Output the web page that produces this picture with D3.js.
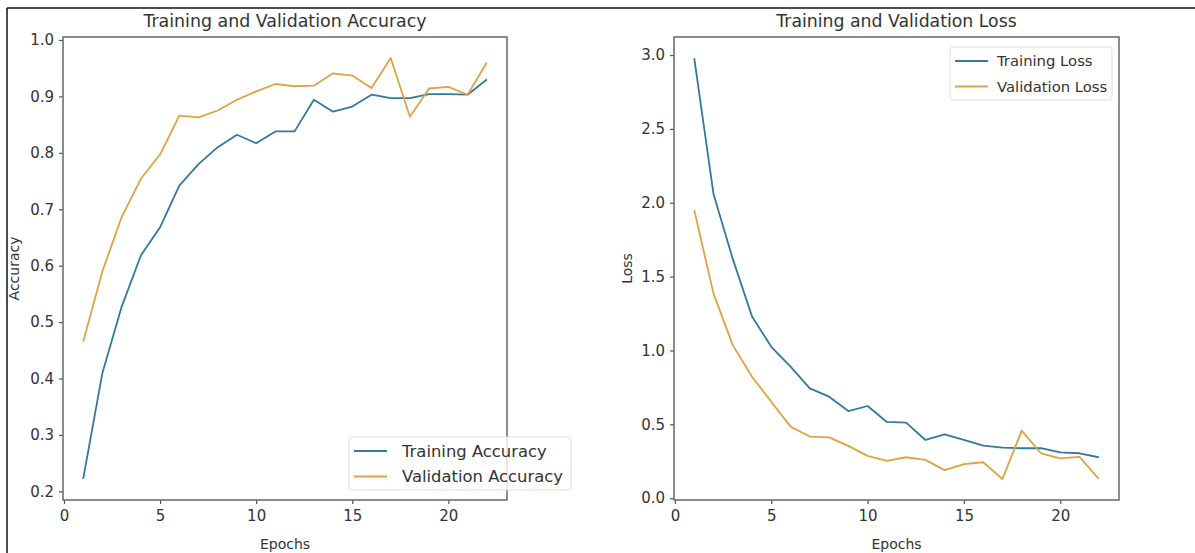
<!DOCTYPE html>
<html>
<head>
<meta charset="utf-8">
<script src="https://cdn.jsdelivr.net/npm/d3@7"></script>
<style>
  body { margin: 0; background: #fff; }
  svg text { font-family: "DejaVu Sans", sans-serif; fill: #333; }
</style>
</head>
<body>
<svg id="chart" width="1195" height="553"></svg>
<script>
// epochs 1..22
const epochs = d3.range(1, 23);

const trainAcc = [0.222, 0.41, 0.527, 0.618, 0.668, 0.742, 0.78, 0.81, 0.832, 0.817, 0.838, 0.838,
  0.894, 0.873, 0.882, 0.903, 0.897, 0.897, 0.904, 0.904, 0.903, 0.930];
const valAcc = [0.465, 0.59, 0.686, 0.754, 0.797, 0.866, 0.863, 0.875, 0.894, 0.909, 0.922, 0.918,
  0.919, 0.941, 0.937, 0.915, 0.968, 0.864, 0.914, 0.917, 0.903, 0.960];

const trainLoss = [2.98, 2.06, 1.62, 1.23, 1.025, 0.89, 0.743, 0.687, 0.59, 0.624, 0.516, 0.511,
  0.394, 0.432, 0.394, 0.356, 0.342, 0.338, 0.338, 0.31, 0.304, 0.277];
const valLoss = [1.95, 1.385, 1.036, 0.822, 0.653, 0.484, 0.417, 0.412, 0.354, 0.286, 0.252, 0.277,
  0.259, 0.19, 0.23, 0.243, 0.13, 0.457, 0.304, 0.27, 0.28, 0.13];

const xTicks = [0, 5, 10, 15, 20];
const accTicks = [0.2, 0.3, 0.4, 0.5, 0.6, 0.7, 0.8, 0.9, 1.0];
const lossTicks = [0.0, 0.5, 1.0, 1.5, 2.0, 2.5, 3.0];

const blue = "#34789f";
const orange = "#e0a245";

const svg = d3.select("#chart");

// frame lines of the screenshot
svg.append("line").attr("x1", 7).attr("x2", 1195).attr("y1", 8).attr("y2", 8)
  .attr("stroke", "#111").attr("stroke-width", 1.5);
svg.append("line").attr("x1", 7).attr("x2", 7).attr("y1", 8).attr("y2", 553)
  .attr("stroke", "#111").attr("stroke-width", 1.5);

function pad(ext) {
  const r = ext[1] - ext[0];
  return [ext[0] - r * 0.05, ext[1] + r * 0.05];
}

function drawPanel(cfg) {
  const { left, right, top, bottom } = cfg;
  const g = svg.append("g");

  const x = d3.scaleLinear().domain(pad([1, 22])).range([left, right]);
  const y = d3.scaleLinear()
    .domain(pad(d3.extent(cfg.series[0].values.concat(cfg.series[1].values))))
    .range([bottom, top]);

  // axes
  const xAxis = g.append("g").attr("transform", `translate(0,${bottom})`)
    .call(d3.axisBottom(x).tickValues(xTicks).tickSize(4).tickPadding(6).tickFormat(d3.format("d")));
  const yAxis = g.append("g").attr("transform", `translate(${left},0)`)
    .call(d3.axisLeft(y).tickValues(cfg.yTicks).tickSize(4).tickPadding(5).tickFormat(d3.format(".1f")));

  [xAxis, yAxis].forEach(a => {
    a.select(".domain").remove();
    a.selectAll(".tick line").attr("stroke", "#555").attr("stroke-width", 1.2);
    a.selectAll(".tick text").attr("font-size", 15).attr("fill", "#333")
      .style("font-family", "'DejaVu Sans', sans-serif");
  });

  // spines
  g.append("rect").attr("x", left).attr("y", top)
    .attr("width", right - left).attr("height", bottom - top)
    .attr("fill", "none").attr("stroke", "#666").attr("stroke-width", 1.5);

  const line = d3.line().x((d, i) => x(epochs[i])).y(d => y(d));
  cfg.series.forEach(s => {
    g.append("path").datum(s.values).attr("d", line)
      .attr("fill", "none").attr("stroke", s.color).attr("stroke-width", 1.8)
      .attr("stroke-linejoin", "round");
  });

  // title + labels
  g.append("text").attr("x", (left + right) / 2).attr("y", 27)
    .attr("text-anchor", "middle").attr("font-size", cfg.titleSize).text(cfg.title);
  g.append("text").attr("x", (left + right) / 2).attr("y", 549)
    .attr("text-anchor", "middle").attr("font-size", 14).text("Epochs");
  g.append("text")
    .attr("transform", `translate(${cfg.yLabelX},${(top + bottom) / 2}) rotate(-90)`)
    .attr("text-anchor", "middle").attr("font-size", 14).text(cfg.yLabel);

  // legend
  const lg = g.append("g").attr("transform", `translate(${cfg.legend[0]},${cfg.legend[1]})`);
  lg.append("rect").attr("width", cfg.legendW).attr("height", 53).attr("rx", 3)
    .attr("fill", "#fff").attr("fill-opacity", 0.8).attr("stroke", "#ddd");
  cfg.series.forEach((s, i) => {
    const cy = 14 + i * 25.5;
    lg.append("line").attr("x1", 5).attr("x2", 38).attr("y1", cy).attr("y2", cy)
      .attr("stroke", s.color).attr("stroke-width", 1.8);
    lg.append("text").attr("x", cfg.legendTextX).attr("y", cy).attr("dy", "0.35em")
      .attr("font-size", cfg.legendSize).text(s.name);
  });
}

drawPanel({
  left: 63, right: 507, top: 37, bottom: 500,
  title: "Training and Validation Accuracy", titleSize: 17.4,
  yLabel: "Accuracy", yLabelX: 19,
  yTicks: accTicks,
  series: [
    { name: "Training Accuracy", values: trainAcc, color: blue },
    { name: "Validation Accuracy", values: valAcc, color: orange }
  ],
  legend: [349, 437], legendW: 222, legendTextX: 53, legendSize: 16.4
});

drawPanel({
  left: 674, right: 1119, top: 37, bottom: 500,
  title: "Training and Validation Loss", titleSize: 17.3,
  yLabel: "Loss", yLabelX: 632,
  yTicks: lossTicks,
  series: [
    { name: "Training Loss", values: trainLoss, color: blue },
    { name: "Validation Loss", values: valLoss, color: orange }
  ],
  legend: [950, 47], legendW: 162, legendTextX: 47, legendSize: 14.8
});
</script>
</body>
</html>
